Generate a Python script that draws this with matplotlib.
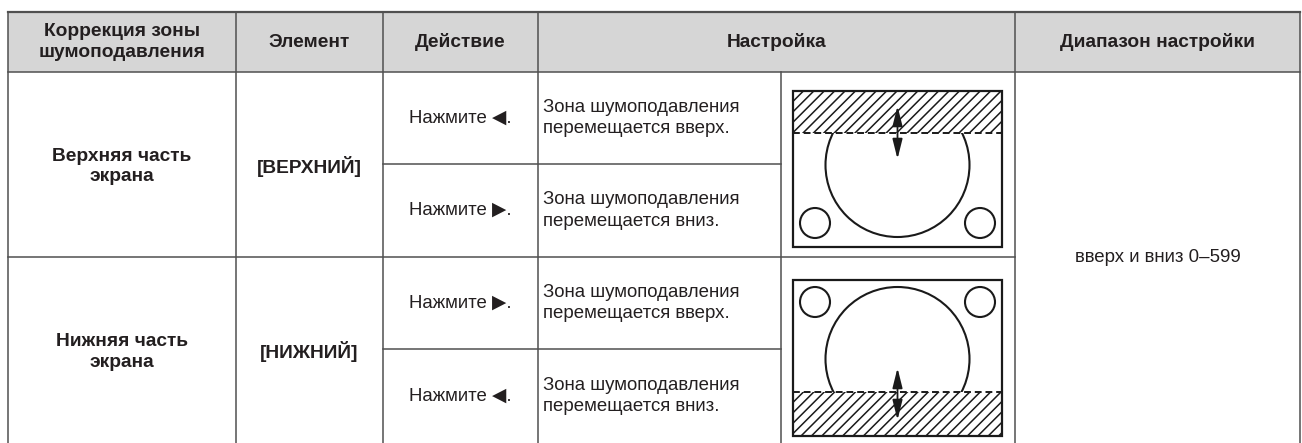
import matplotlib.pyplot as plt
import numpy as np
from matplotlib.patches import Rectangle, Circle, FancyArrowPatch

plt.rcParams['font.family'] = ['Liberation Sans', 'DejaVu Sans']

# Contenu du tableau
entetes = ["Коррекция зоны\nшумоподавления", "Элемент", "Действие", "Настройка", "Диапазон настройки"]
zones = ["Верхняя часть\nэкрана", "Нижняя часть\nэкрана"]
elements = ["[ВЕРХНИЙ]", "[НИЖНИЙ]"]
actions = ["Нажмите ◀.", "Нажмите ▶.", "Нажмите ▶.", "Нажмите ◀."]
reglages = ["Зона шумоподавления\nперемещается вверх.", "Зона шумоподавления\nперемещается вниз.",
            "Зона шумоподавления\nперемещается вверх.", "Зона шумоподавления\nперемещается вниз."]
plage = "вверх и вниз 0–599"

# Géométrie (pixels)
W, H = 1302, 443
xc = [8, 236, 383, 538, 781, 1015, 1300]
y_head = (12, 72)
y_sub = [72, 164, 257, 349, 443]
lc = '#505050'
lw = 1.1
tc = '#231f20'

fig = plt.figure(figsize=(W / 100, H / 100), dpi=100)
ax = fig.add_axes([0, 0, 1, 1])
ax.set_xlim(0, W)
ax.set_ylim(H, 0)
ax.axis('off')

# En-tête grisé
ax.add_patch(Rectangle((xc[0], y_head[0]), xc[-1] - xc[0], y_head[1] - y_head[0],
                       facecolor='#d6d6d6', edgecolor='none'))
fs = 13.4
fsb = 13.8
hx = [(xc[0] + xc[1]) / 2, (xc[1] + xc[2]) / 2, (xc[2] + xc[3]) / 2,
      (xc[3] + xc[5]) / 2, (xc[5] + xc[6]) / 2]
for x, t in zip(hx, entetes):
    ax.text(x, 42, t, ha='center', va='center', fontsize=fsb, fontweight='bold',
            color=tc, linespacing=1.25)

# Lignes horizontales
ax.plot([xc[0], xc[-1]], [y_head[0]] * 2, color=lc, lw=1.6)
ax.plot([xc[0], xc[-1]], [y_head[1]] * 2, color=lc, lw=lw)
ax.plot([xc[0], xc[5]], [y_sub[2]] * 2, color=lc, lw=lw)
for y in (y_sub[1], y_sub[3]):
    ax.plot([xc[2], xc[4]], [y, y], color=lc, lw=lw)

# Lignes verticales
for i, x in enumerate(xc):
    y0 = y_head[1] if i == 4 else y_head[0]
    ax.plot([x, x], [y0, H], color=lc, lw=lw)

# Colonnes 1 et 2 (fusionnées sur deux sous-lignes)
for k in range(2):
    yc = (y_sub[2 * k] + y_sub[2 * k + 2]) / 2 + 2
    ax.text(hx[0], yc, zones[k], ha='center', va='center', fontsize=fsb,
            fontweight='bold', color=tc, linespacing=1.3)
    ax.text(hx[1], yc, elements[k], ha='center', va='center', fontsize=fsb,
            fontweight='bold', color=tc)

# Actions et réglages
for k in range(4):
    yc = (y_sub[k] + y_sub[k + 1]) / 2
    ax.text(hx[2], yc, actions[k], ha='center', va='center', fontsize=fs, color=tc)
    ax.text(xc[3] + 5, yc, reglages[k], ha='left', va='center', fontsize=fs,
            color=tc, linespacing=1.35)

# Plage de réglage
ax.text(hx[4], y_sub[2], plage, ha='center', va='center', fontsize=fs, color=tc)


# Pictogrammes
def pictogramme(top, haut):
    x0, x1 = 793, 1002
    y0, y1 = top, top + 156
    cx = (x0 + x1) / 2
    r = 72
    if haut:
        yd = y0 + 42
        bande = (y0, yd)
        cy = y1 - 10 - r
        petits = y1 - 24
        fl = (y0 + 15, y0 + 68)
    else:
        yd = y1 - 44
        bande = (yd, y1)
        cy = y0 + 7 + r
        petits = y0 + 22
        fl = (y1 - 68, y1 - 16)
    # bande hachurée
    zone = Rectangle((x0, bande[0]), x1 - x0, bande[1] - bande[0], transform=ax.transData)
    hb = bande[1] - bande[0]
    for xs in np.arange(x0 - hb, x1 + 1, 10.4):
        ln, = ax.plot([xs, xs + hb], [bande[1], bande[0]], color='#1a1a1a', lw=1.1)
        ln.set_clip_path(zone)
    # grand cercle, coupé à la ligne pointillée
    c = Circle((cx, cy), r, facecolor='none', edgecolor='#1a1a1a', lw=1.5)
    ax.add_patch(c)
    clip = Rectangle((x0, yd if haut else y0), x1 - x0,
                     (y1 - yd) if haut else (yd - y0), transform=ax.transData)
    c.set_clip_path(clip)
    for px in (815, 980):
        ax.add_patch(Circle((px, petits), 15, facecolor='none', edgecolor='#1a1a1a', lw=1.5))
    ax.plot([x0, x1], [yd, yd], color='#1a1a1a', lw=1.4, dashes=(3.5, 2))
    ax.add_patch(Rectangle((x0, y0), x1 - x0, y1 - y0, facecolor='none',
                           edgecolor='#1a1a1a', lw=1.6))
    ax.add_patch(FancyArrowPatch((cx, fl[0]), (cx, fl[1]),
                                 arrowstyle='<|-|>,head_length=1.2,head_width=0.3',
                                 mutation_scale=10, color='#1a1a1a', lw=1.3,
                                 shrinkA=0, shrinkB=0))


pictogramme(91, True)
pictogramme(280, False)

fig.savefig('out.png', dpi=100, facecolor='white')
